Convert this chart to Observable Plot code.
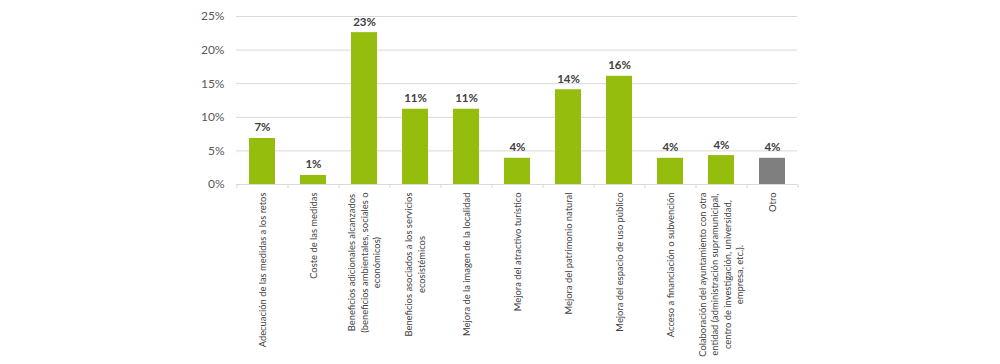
<!DOCTYPE html>
<html>
<head>
<meta charset="utf-8">
<script src="https://cdn.jsdelivr.net/npm/d3@7"></script>
<script src="https://cdn.jsdelivr.net/npm/@observablehq/plot@0.6"></script>
<style>
  html, body { margin: 0; padding: 0; background: #fff; }
  #chart svg { display: block; }
</style>
</head>
<body>
<div id="chart"></div>
<script>
const categories = [
  "Adecuación de las medidas a los retos",
  "Coste de las medidas",
  "Beneficios adicionales alcanzados\n(beneficios ambientales, sociales o\neconómicos)",
  "Beneficios asociados a los servicios\necosistémicos",
  "Mejora de la imagen de la localidad",
  "Mejora del atractivo turístico",
  "Mejora del patrimonio natural",
  "Mejora del espacio de uso público",
  "Acceso a financiación o subvención",
  "Colaboración del ayuntamiento con otra\nentidad (administración supramunicipal,\ncentro de investigación, universidad,\nempresa, etc.).",
  "Otro"
];
const values = [6.85, 1.35, 22.6, 11.2, 11.2, 3.9, 14.1, 16.1, 3.9, 4.3, 3.9];
const valueLabels = ["7%", "1%", "23%", "11%", "11%", "4%", "14%", "16%", "4%", "4%", "4%"];
const barColors = ["#95bd0e", "#95bd0e", "#95bd0e", "#95bd0e", "#95bd0e", "#95bd0e", "#95bd0e", "#95bd0e", "#95bd0e", "#95bd0e", "#7f7f7f"];
const yTicks = [0, 5, 10, 15, 20, 25];

const data = categories.map((c, i) => ({cat: c, value: values[i], label: valueLabels[i], color: barColors[i]}));

const FONT = "Lato";
const labelSize = 9.4;
const lineHeight = 12.5;
const ctx = document.createElement("canvas").getContext("2d");
ctx.font = `${labelSize}px ${FONT}`;

const labelMarks = [];
categories.forEach((c) => {
  const lines = c.split("\n");
  const widths = lines.map((l) => ctx.measureText(l).width);
  const maxW = Math.max(...widths);
  lines.forEach((l, j) => {
    labelMarks.push(Plot.text([{cat: c, line: l}], {
      x: "cat", frameAnchor: "bottom", text: "line", rotate: -90,
      textAnchor: "end", lineAnchor: "middle",
      dx: (j - (lines.length - 1) / 2) * lineHeight,
      dy: 8 + (maxW - widths[j]) / 2,
      fontSize: labelSize, fill: "#404040"
    }));
  });
});

const step = (1000 - 236 - 203) / categories.length;

const chart = Plot.plot({
  width: 1000,
  height: 364,
  marginLeft: 236,
  marginRight: 203,
  marginTop: 16,
  marginBottom: 180,
  style: {fontFamily: FONT, background: "#fff"},
  x: {domain: categories, paddingInner: 0.5, paddingOuter: 0.25, axis: null},
  y: {domain: [0, 25], axis: null},
  color: {type: "identity"},
  marks: [
    Plot.gridY(yTicks, {stroke: "#d9d9d9", strokeOpacity: 1, strokeWidth: 1}),
    Plot.axisY(yTicks, {tickSize: 0, tickPadding: 12, tickFormat: (d) => d + "%", fontSize: 12, color: "#595959", label: null}),
    Plot.barY(data, {x: "cat", y: "value", fill: "color"}),
    Plot.ruleY([0], {stroke: "#d9d9d9"}),
    Plot.ruleX(categories, {x: (d) => d, dx: -step / 2, y1: 0, y2: 0, insetBottom: -4, stroke: "#d9d9d9"}),
    Plot.ruleX([categories[categories.length - 1]], {x: (d) => d, dx: step / 2, y1: 0, y2: 0, insetBottom: -4, stroke: "#d9d9d9"}),
    Plot.text(data, {x: "cat", y: "value", text: "label", dy: -7, lineAnchor: "bottom", fontSize: 11.5, fontWeight: "bold", fill: "#404040"}),
    ...labelMarks
  ]
});
document.getElementById("chart").appendChild(chart);
</script>
</body>
</html>
